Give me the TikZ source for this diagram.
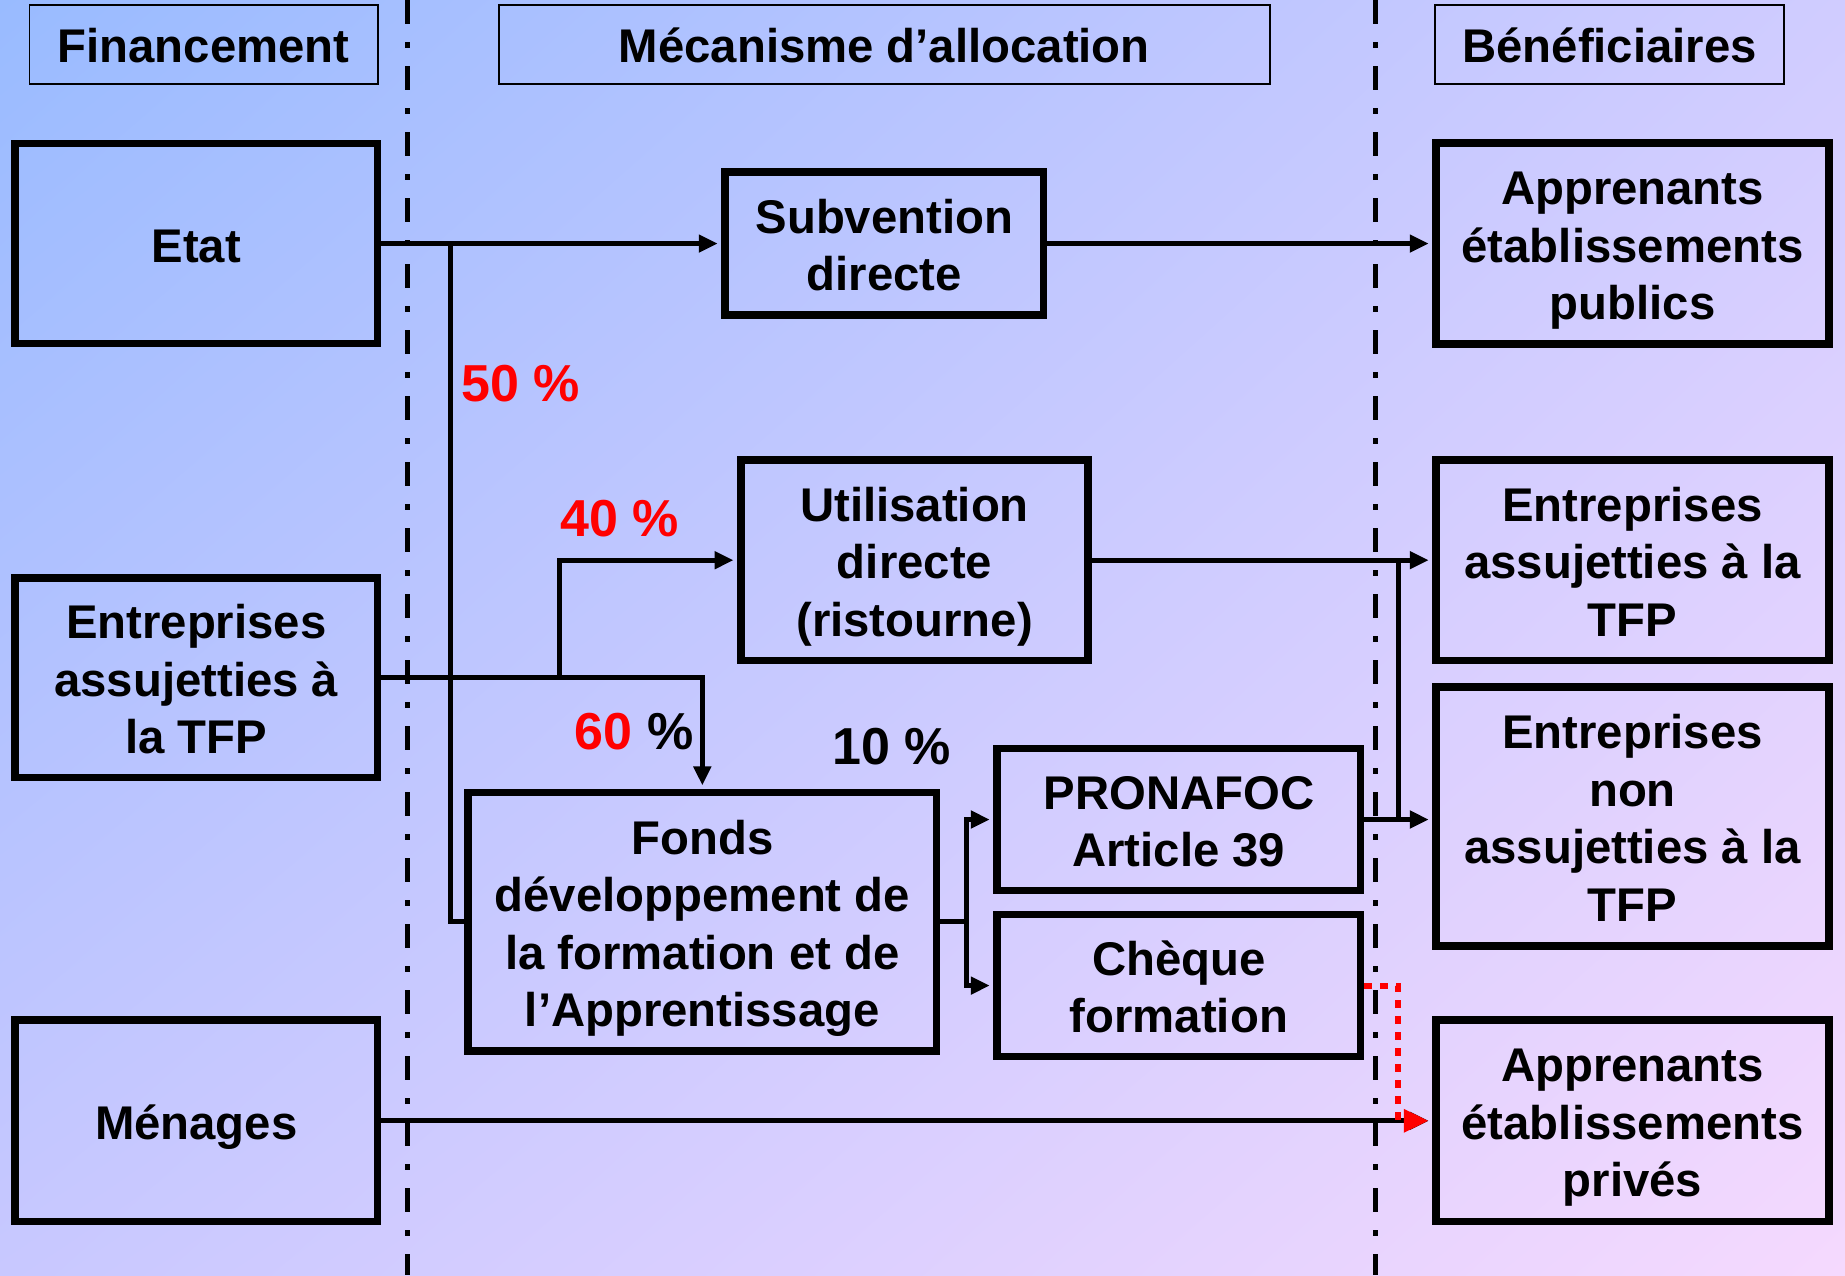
\documentclass[tikz,border=0pt]{standalone}
\usepackage{fontspec}
\setmainfont{Liberation Sans}
\usetikzlibrary{arrows.meta,shadings}
\definecolor{bgUL}{HTML}{99BBFF}
\definecolor{bgUR}{HTML}{D0CCFF}
\definecolor{bgLL}{HTML}{C8C8FF}
\definecolor{bgLR}{HTML}{F5D9FE}
\definecolor{pctred}{HTML}{FF0000}
\begin{document}
\begin{tikzpicture}[x=1pt,y=-1pt,
  box/.style={draw=black, line width=7.5pt, inner sep=0pt, align=center,
    font=\fontsize{47.3}{57.5}\selectfont\bfseries},
  hdr/.style={draw=black, line width=1.8pt, inner sep=0pt, align=center,
    minimum height=79.3pt, font=\fontsize{47.3}{57.5}\selectfont\bfseries},
  lA/.style={text height=47.3pt, text depth=10.2pt},
  lB/.style={text height=104.8pt, text depth=10.2pt},
  lC/.style={text height=162.3pt, text depth=10.2pt},
  lD/.style={text height=219.8pt, text depth=10.2pt},
  conn/.style={line width=5pt},
  arr/.style={conn, -{Triangle[length=19pt,width=17pt]}, shorten >=3.5pt},
  redarr/.style={draw=pctred, line width=6pt, dash pattern=on 8pt off 8pt,
    -{Triangle[length=25pt,width=22pt]}, shorten >=3.5pt},
  sep/.style={line width=5pt, dash pattern=on 24pt off 18pt on 6pt off 18pt},
  pct/.style={inner sep=0pt, font=\fontsize{52}{60}\selectfont\bfseries}
]
\useasboundingbox (0,0) rectangle (1845,1275);
\shade[upper left=bgUL, upper right=bgUR, lower left=bgLL, lower right=bgLR]
  (0,0) rectangle (1845,1275);

% separators
\draw[sep] (407.5,0) -- (407.5,1275);
\draw[sep] (1375,0) -- (1375,1275);

% headers
\node[hdr, lA, minimum width=348.3pt] (hfin) at (203.55,44.3) {Financement};
\node[hdr, lA, minimum width=770.6pt] (hmec) at (884.3,44.3) {Mécanisme d’allocation};
\node[hdr, lA, minimum width=348.6pt] (hben) at (1609.6,44.3) {Bénéficiaires};

% left column
\node[box, lA, minimum width=362.5pt, minimum height=199.9pt] (etat) at (196.25,243.55) {Etat};
\node[box, lC, minimum width=362.5pt, minimum height=199.7pt] (ent) at (196.25,677.65) {Entreprises\\assujetties à\\la TFP};
\node[box, lA, minimum width=362.5pt, minimum height=201.2pt] (men) at (196.25,1120.8) {Ménages};

% middle column
\node[box, lB, minimum width=318.7pt, minimum height=143pt] (subv) at (884.35,243.55) {Subvention\\directe};
\node[box, lC, minimum width=347.4pt, minimum height=200.4pt] (util) at (914.5,560.2) {Utilisation\\directe\\(ristourne)};
\node[box, lD, minimum width=468.7pt, minimum height=258.1pt] (fonds) at (702.35,921.75) {Fonds\\développement de\\la formation et de\\l’Apprentissage};
\node[box, lB, minimum width=363.7pt, minimum height=142pt] (pron) at (1178.85,819.5) {PRONAFOC\\Article 39};
\node[box, lB, minimum width=363.7pt, minimum height=142pt] (cheq) at (1178.85,985.6) {Chèque\\formation};

% right column
\node[box, lC, minimum width=393pt, minimum height=201.2pt] (pub) at (1632.5,243.55) {Apprenants\\établissements\\publics};
\node[box, lC, minimum width=393pt, minimum height=200.7pt] (entR) at (1632.5,560.2) {Entreprises\\assujetties à la\\TFP};
\node[box, lD, minimum width=393pt, minimum height=259pt] (nonR) at (1632.5,816.5) {Entreprises\\non\\assujetties à la\\TFP};
\node[box, lC, minimum width=393pt, minimum height=201.2pt] (priv) at (1632.5,1120.8) {Apprenants\\établissements\\privés};

% percentages
\node[pct, text=pctred] (p50) at (521,383.5) {50 \%};
\node[pct, text=pctred] (p40) at (619.7,518.5) {40 \%};
\node[pct] (p60) at (634,731.5) {\textcolor{pctred}{60} \%};
\node[pct] (p10) at (892,747) {10 \%};

% junction points
\coordinate (jE) at (450.7,243.55);
\coordinate (jT) at (559,677.65);
\coordinate (jR) at (1398,560.2);
\coordinate (jR2) at (1398,819.5);
\coordinate (jF) at (966,921.75);
\coordinate (jC) at (1398,985.6);
\coordinate (jC2) at (1398,1120.8);

% connectors
\draw[arr] (etat.east) -- (subv.west);
\draw[conn] (jE) |- (fonds.west);
\draw[arr] (subv.east) -- (pub.west);
\draw[arr] (ent.east) -| (fonds.north);
\draw[arr] (jT) |- (util.west);
\draw[arr] (util.east) -- (entR.west);
\draw[conn] (jR) -- (jR2);
\draw[arr] (pron.east) -- (pron.east -| nonR.west);
\draw[conn] (fonds.east) -- (jF);
\draw[arr] (jF) |- (pron.west);
\draw[arr] (jF) |- (cheq.west);
\draw[arr] (men.east) -- (priv.west);
\draw[redarr] (cheq.east) -- (jC) -- (jC2) -- (priv.west);
\end{tikzpicture}
\end{document}
